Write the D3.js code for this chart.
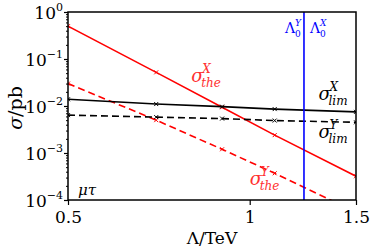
<!DOCTYPE html>
<html>
<head>
<script src="https://d3js.org/d3.v7.min.js"></script>
<style>
  body { margin: 0; background: #fff; }
</style>
</head>
<body>
<div id="chart"></div>
<script>
// Lambda values (TeV) where the curves were sampled
const lambda = [0.5, 0.7, 0.9, 1.1, 1.5];
// cross sections in pb
const sigmaTheX = [0.50, 0.052, 0.0094, 0.0024, 0.00032];
const sigmaTheY = [0.030, 0.0050, 0.0012, 0.00037, 0.000055];
const sigmaLimX = [0.0139, 0.0110, 0.0097, 0.0086, 0.0075];
const sigmaLimY = [0.0064, 0.0058, 0.0054, 0.0049, 0.0045];
const lambda0 = 1.23;
const xTicks = [0.5, 1, 1.5];
const yTicks = [1, 0.1, 0.01, 0.001, 0.0001];

const W = 374, H = 251;
const margin = { top: 12, right: 18, bottom: 51, left: 68 };
const FONT = "'DejaVu Serif', serif";

const svg = d3.select("#chart").append("svg")
  .attr("width", W).attr("height", H)
  .style("font-family", FONT);

const x = d3.scaleLog().domain([0.5, 1.5]).range([margin.left, W - margin.right]);
const y = d3.scaleLog().domain([1e-4, 1]).range([H - margin.bottom, margin.top]);

svg.append("defs").append("clipPath").attr("id", "clip")
  .append("rect")
  .attr("x", x.range()[0]).attr("y", y.range()[1])
  .attr("width", x.range()[1] - x.range()[0])
  .attr("height", y.range()[0] - y.range()[1]);

const plot = svg.append("g").attr("clip-path", "url(#clip)");

const line = d3.line().x(d => x(d[0])).y(d => y(d[1]));

const series = [
  { v: sigmaTheX, color: "#ff0000", dash: null },
  { v: sigmaTheY, color: "#ff0000", dash: "7,4" },
  { v: sigmaLimX, color: "#000", dash: null },
  { v: sigmaLimY, color: "#000", dash: "7,4" }
];

series.forEach(s => {
  const pts = lambda.map((l, i) => [l, s.v[i]]);
  plot.append("path")
    .attr("d", line(pts))
    .attr("fill", "none")
    .attr("stroke", s.color)
    .attr("stroke-width", 1.6)
    .attr("stroke-dasharray", s.dash);
  // small x markers
  plot.selectAll(null).data(pts).enter().append("path")
    .attr("d", d => {
      const cx = x(d[0]), cy = y(d[1]), r = 2;
      return `M${cx - r},${cy - r}L${cx + r},${cy + r}M${cx - r},${cy + r}L${cx + r},${cy - r}`;
    })
    .attr("stroke", s.color)
    .attr("stroke-width", 1);
});

// vertical Lambda_0 line
plot.append("line")
  .attr("x1", x(lambda0)).attr("x2", x(lambda0))
  .attr("y1", y.range()[1]).attr("y2", y.range()[0])
  .attr("stroke", "#0000ff").attr("stroke-width", 1.6);

// frame
svg.append("rect")
  .attr("x", x.range()[0]).attr("y", y.range()[1])
  .attr("width", x.range()[1] - x.range()[0])
  .attr("height", y.range()[0] - y.range()[1])
  .attr("fill", "none").attr("stroke", "#000").attr("stroke-width", 1.5);

// x axis
const xAxis = svg.append("g")
  .attr("transform", `translate(0,${y.range()[0]})`)
  .call(d3.axisBottom(x).tickValues(xTicks).tickSize(5).tickFormat(d3.format("")));
xAxis.attr("font-family", null).attr("font-size", null);
xAxis.select(".domain").remove();
xAxis.selectAll("line").attr("stroke-width", 1.2);
xAxis.selectAll("text").attr("font-size", 17).attr("dy", "0.9em").attr("fill", "#000");

// y axis minor ticks
const minor = [];
for (let e = -4; e < 0; e++) for (let k = 2; k < 10; k++) minor.push(k * Math.pow(10, e));
const yMinor = svg.append("g")
  .attr("transform", `translate(${x.range()[0]},0)`)
  .call(d3.axisLeft(y).tickValues(minor).tickSize(2).tickFormat(""));
yMinor.select(".domain").remove();

// y axis major ticks
const yAxis = svg.append("g")
  .attr("transform", `translate(${x.range()[0]},0)`)
  .call(d3.axisLeft(y).tickValues(yTicks).tickSize(4).tickFormat(""));
yAxis.attr("font-family", null).attr("font-size", null);
yAxis.select(".domain").remove();
yAxis.selectAll("line").attr("stroke-width", 1.2);
yAxis.selectAll(".tick").append("text")
  .attr("x", -5).attr("y", 6)
  .attr("text-anchor", "end")
  .attr("fill", "#000")
  .attr("font-size", 17)
  .each(function (d) {
    const t = d3.select(this);
    t.append("tspan").text("10");
    const e = Math.round(Math.log10(d));
    t.append("tspan").attr("dy", -8).attr("font-size", 11)
      .text(e === 0 ? "0" : "\u2212" + (-e));
  });

// axis titles
svg.append("text")
  .attr("x", (x.range()[0] + x.range()[1]) / 2).attr("y", 244)
  .attr("text-anchor", "middle").attr("font-size", 17)
  .text("\u039B/TeV");

svg.append("text")
  .attr("transform", `translate(22,${(y.range()[0] + y.range()[1]) / 2 + 2}) rotate(-90)`)
  .attr("text-anchor", "middle").attr("font-size", 19)
  .html('<tspan font-style="italic">\u03C3</tspan>/pb');

// sigma-type label: base, superscript, subscript as separate texts
function sigmaLabel(px, py, sup, sub, color) {
  svg.append("text").attr("x", px).attr("y", py).attr("fill", color)
    .attr("font-size", 18).attr("font-style", "italic").text("\u03C3");
  svg.append("text").attr("x", px + 11).attr("y", py - 9).attr("fill", color)
    .attr("font-size", 12).attr("font-style", "italic").text(sup);
  svg.append("text").attr("x", px + 10).attr("y", py + 5).attr("fill", color)
    .attr("font-size", 12).attr("font-style", "italic").text(sub);
}
sigmaLabel(x(0.8), y(0.033), "X", "the", "#ff3030");
sigmaLabel(x(1.3), y(0.0134), "X", "lim", "#000");
sigmaLabel(x(1.3), y(0.0021), "Y", "lim", "#000");
sigmaLabel(x(1.0), y(0.00021), "Y", "the", "#ff3030");

function lambdaLabel(px, py, sup) {
  svg.append("text").attr("x", px).attr("y", py).attr("fill", "#0000ff")
    .attr("font-size", 14).text("\u039B");
  svg.append("text").attr("x", px + 10).attr("y", py - 7).attr("fill", "#0000ff")
    .attr("font-size", 9).attr("font-style", "italic").text(sup);
  svg.append("text").attr("x", px + 10).attr("y", py + 4).attr("fill", "#0000ff")
    .attr("font-size", 9).text("0");
}
lambdaLabel(x(lambda0) - 19, 33, "Y");
lambdaLabel(x(lambda0) + 6, 33, "X");

svg.append("text")
  .attr("x", x.range()[0] + 10).attr("y", y.range()[0] - 5)
  .attr("font-size", 15).attr("font-style", "italic")
  .text("\u03BC\u03C4");
</script>
</body>
</html>
